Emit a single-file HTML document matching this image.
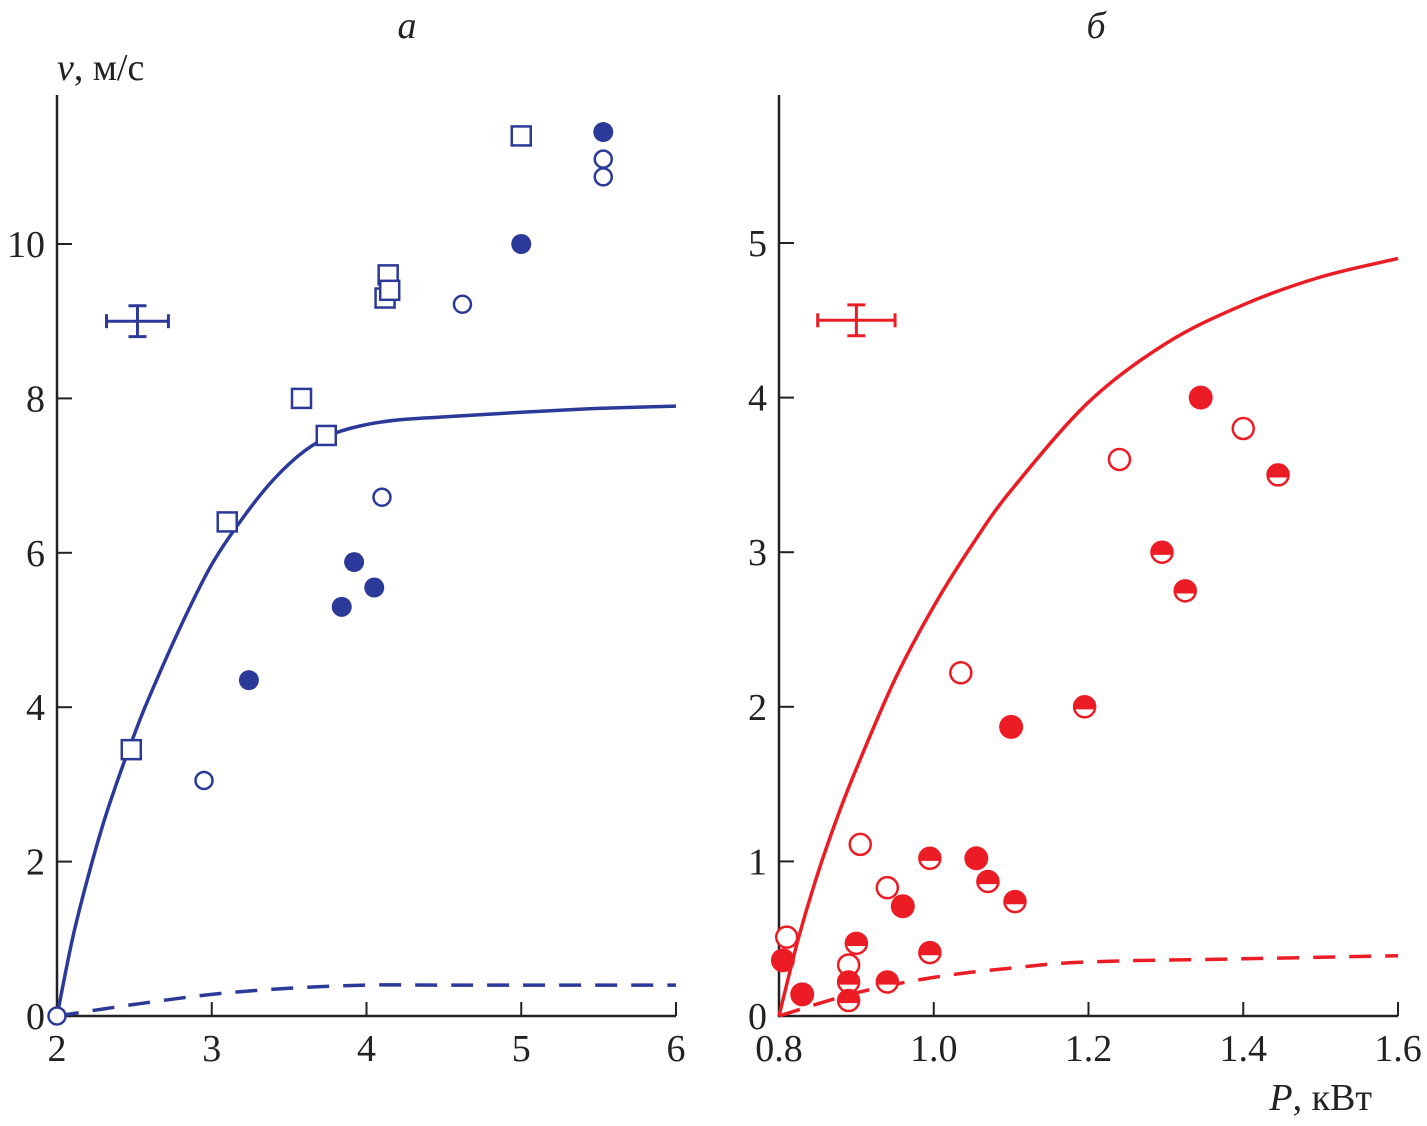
<!DOCTYPE html>
<html><head><meta charset="utf-8">
<style>
html,body{margin:0;padding:0;background:#fff;}
svg{display:block;}
text{font-family:"Liberation Serif","Times New Roman",serif;}
</style></head>
<body>
<svg id="chart" width="1427" height="1126" viewBox="0 0 1427 1126" xmlns="http://www.w3.org/2000/svg">
<g id="L"></g>
<g id="R"></g>
</svg>
<script>
// Panel a data
const aSquaresX=[2.48,3.1,3.58,3.74,4.12,4.14,4.15,5.0];
const aSquaresY=[3.45,6.4,8.0,7.52,9.3,9.6,9.4,11.4];
const aOpenX=[2.0,2.95,4.1,4.62,5.53,5.53];
const aOpenY=[0,3.05,6.72,9.22,11.1,10.87];
const aFilledX=[3.24,3.84,3.92,4.05,5.0,5.53];
const aFilledY=[4.35,5.3,5.88,5.55,10.0,11.45];
const aCurveX=[2,2.1,2.2,2.3,2.4,2.5,2.6,2.8,3,3.2,3.4,3.6,3.8,4.0,4.2,4.5,5,5.5,6];
const aCurveY=[0,1.0,1.8,2.5,3.1,3.65,4.15,5.05,5.85,6.45,6.95,7.32,7.55,7.66,7.72,7.76,7.82,7.87,7.9];
const aDashX=[2,2.5,3,3.5,4,4.5,5,6];
const aDashY=[0,0.15,0.28,0.36,0.4,0.4,0.4,0.4];
const aXTicks=[2,3,4,5,6];
const aYTicks=[0,2,4,6,8,10];
// Panel b data
const bOpenX=[0.81,0.89,0.905,0.94,1.035,1.24,1.4];
const bOpenY=[0.51,0.33,1.11,0.83,2.22,3.6,3.8];
const bFilledX=[0.805,0.83,0.96,1.1,1.345,1.055];
const bFilledY=[0.36,0.14,0.71,1.87,4.0,1.02];
const bHalfX=[0.9,0.89,0.89,0.94,0.995,0.995,1.07,1.105,1.195,1.295,1.325,1.445];
const bHalfY=[0.47,0.22,0.1,0.22,1.02,0.41,0.87,0.74,2.0,3.0,2.75,3.5];
const bCurveX=[0.8,0.825,0.85,0.875,0.9,0.95,1.0,1.05,1.1,1.2,1.3,1.4,1.5,1.6];
const bCurveY=[0,0.5,0.92,1.28,1.6,2.18,2.65,3.05,3.4,3.97,4.35,4.6,4.78,4.9];
const bDashX=[0.8,0.9,1.0,1.1,1.2,1.4,1.6];
const bDashY=[0,0.15,0.25,0.31,0.35,0.37,0.39];
const bXTicks=[0.8,1.0,1.2,1.4,1.6];
const bXLabels=["0.8","1.0","1.2","1.4","1.6"];
const bYTicks=[0,1,2,3,4,5];

const NS="http://www.w3.org/2000/svg";
const FONT='"Liberation Serif","Times New Roman",serif';
function mk(parent,tag,attrs){const e=document.createElementNS(NS,tag);for(const k in attrs)e.setAttribute(k,attrs[k]);parent.appendChild(e);return e;}
function smooth(P){
  let d=`M${P[0][0].toFixed(1)} ${P[0][1].toFixed(1)}`;
  for(let i=0;i<P.length-1;i++){
    const p0=P[i-1]||P[i],p1=P[i],p2=P[i+1],p3=P[i+2]||P[i+1];
    const c1=[p1[0]+(p2[0]-p0[0])/6,p1[1]+(p2[1]-p0[1])/6];
    const c2=[p2[0]-(p3[0]-p1[0])/6,p2[1]-(p3[1]-p1[1])/6];
    d+=` C${c1[0].toFixed(1)} ${c1[1].toFixed(1)} ${c2[0].toFixed(1)} ${c2[1].toFixed(1)} ${p2[0].toFixed(1)} ${p2[1].toFixed(1)}`;
  }
  return d;
}

function panel(g,xmin,xmax,x0,x1,yPer,color,opts){
  const sx=v=>x0+(v-xmin)/(xmax-xmin)*(x1-x0);
  const sy=v=>1016-v*yPer;
  let ax=mk(g,'path',{d:`M${x0} 95 V1016 H${x1}`,fill:'none',stroke:'#222','stroke-width':2.5});
  
  
  opts.xt.forEach((t,i)=>{
    const x=sx(t);
    if(i>0){let l=mk(g,'line',{x1:x,x2:x,y1:1016,y2:1002,stroke:'#222','stroke-width':2});
      
      }
    let tx=mk(g,'text',{x:x,y:1061,'font-size':38,'font-family':FONT,'text-anchor':'middle',fill:'#222'});
    tx.textContent=opts.xl?opts.xl[i]:String(t);
    
    
  });
  opts.yt.forEach(t=>{
    const y=sy(t);
    if(t>0){let l=mk(g,'line',{x1:x0,x2:x0+15,y1:y,y2:y,stroke:'#222','stroke-width':2});
      
      }
    let tx=mk(g,'text',{x:x0-12,y:y+13,'font-size':38,'font-family':FONT,'text-anchor':'end',fill:'#222'});
    tx.textContent=String(t);
    
    
  });
  const line=(X,Y,dash,name)=>{
    const P=X.map((v,i)=>[sx(v),sy(Y[i])]);
    let p=mk(g,'path',{d:smooth(P),fill:'none',stroke:color,'stroke-width':3.5,'stroke-dasharray':dash||'none'});
    
    
  };
  line(opts.cx,opts.cy,null,'model-curve');
  line(opts.dx,opts.dy,'22 14','dashed-curve');
  const e=opts.err;
  let eg=mk(g,'g',{stroke:color,'stroke-width':3,fill:'none'});
  
  
  mk(eg,'line',{x1:sx(e[0]-e[2]),x2:sx(e[0]+e[2]),y1:sy(e[1]),y2:sy(e[1])});
  mk(eg,'line',{x1:sx(e[0]),x2:sx(e[0]),y1:sy(e[1]-e[3]),y2:sy(e[1]+e[3])});
  mk(eg,'line',{x1:sx(e[0]-e[2]),x2:sx(e[0]-e[2]),y1:sy(e[1])-7,y2:sy(e[1])+7});
  mk(eg,'line',{x1:sx(e[0]+e[2]),x2:sx(e[0]+e[2]),y1:sy(e[1])-7,y2:sy(e[1])+7});
  mk(eg,'line',{x1:sx(e[0])-9,x2:sx(e[0])+9,y1:sy(e[1]-e[3]),y2:sy(e[1]-e[3])});
  mk(eg,'line',{x1:sx(e[0])-9,x2:sx(e[0])+9,y1:sy(e[1]+e[3]),y2:sy(e[1]+e[3])});
  return {sx,sy};
}

const L=document.getElementById('L'), R=document.getElementById('R');
const blue='#2b3a98', red='#ec1c24';
const a=panel(L,2,6,57,676,77.2,blue,{xt:aXTicks,yt:aYTicks,cx:aCurveX,cy:aCurveY,dx:aDashX,dy:aDashY,err:[2.52,9.0,0.2,0.2]});
aSquaresX.forEach((x,i)=>{let r=mk(L,'rect',{x:a.sx(x)-9.5,y:a.sy(aSquaresY[i])-9.5,width:19,height:19,fill:'#fff',stroke:blue,'stroke-width':2.5});
  
  });
aOpenX.forEach((x,i)=>{let c=mk(L,'circle',{cx:a.sx(x),cy:a.sy(aOpenY[i]),r:8.5,fill:'#fff',stroke:blue,'stroke-width':2.5});
  
  });
aFilledX.forEach((x,i)=>{let c=mk(L,'circle',{cx:a.sx(x),cy:a.sy(aFilledY[i]),r:10,fill:blue});
  
  });

const b=panel(R,0.8,1.6,779,1398,154.6,red,{xt:bXTicks,xl:bXLabels,yt:bYTicks,cx:bCurveX,cy:bCurveY,dx:bDashX,dy:bDashY,err:[0.9,4.5,0.05,0.1]});
bOpenX.forEach((x,i)=>{let c=mk(R,'circle',{cx:b.sx(x),cy:b.sy(bOpenY[i]),r:10.5,fill:'#fff',stroke:red,'stroke-width':2.5});
  
  });
bFilledX.forEach((x,i)=>{let c=mk(R,'circle',{cx:b.sx(x),cy:b.sy(bFilledY[i]),r:12,fill:red});
  
  });
bHalfX.forEach((x,i)=>{
  const cx=b.sx(x),cy=b.sy(bHalfY[i]),r=10.5;
  let g=mk(R,'g',{});
  
  
  mk(g,'circle',{cx:cx,cy:cy,r:r,fill:'#fff',stroke:red,'stroke-width':2.5});
  const dx=r*0.968,dy=r*0.25;
  mk(g,'path',{d:`M${cx-dx} ${cy+dy} A${r} ${r} 0 1 1 ${cx+dx} ${cy+dy} Z`,fill:red});
});

function txt(x,y,s,size,style,anchor,name){let t=mk(document.getElementById('chart'),'text',{x:x,y:y,'font-size':size,'font-family':FONT,'font-style':style,'text-anchor':anchor,fill:'#222'});t.innerHTML=s;
  
  }
txt(407,38,'а',38,'italic','middle','title-a');
txt(1096,38,'б',38,'italic','middle','title-b');
txt(57,80,'<tspan font-style="italic">v</tspan>, м/с',38,'normal','start','y-axis-title');
txt(1372,1110,'<tspan font-style="italic">P</tspan>, кВт',38,'normal','end','x-axis-title');
</script>
</body></html>
